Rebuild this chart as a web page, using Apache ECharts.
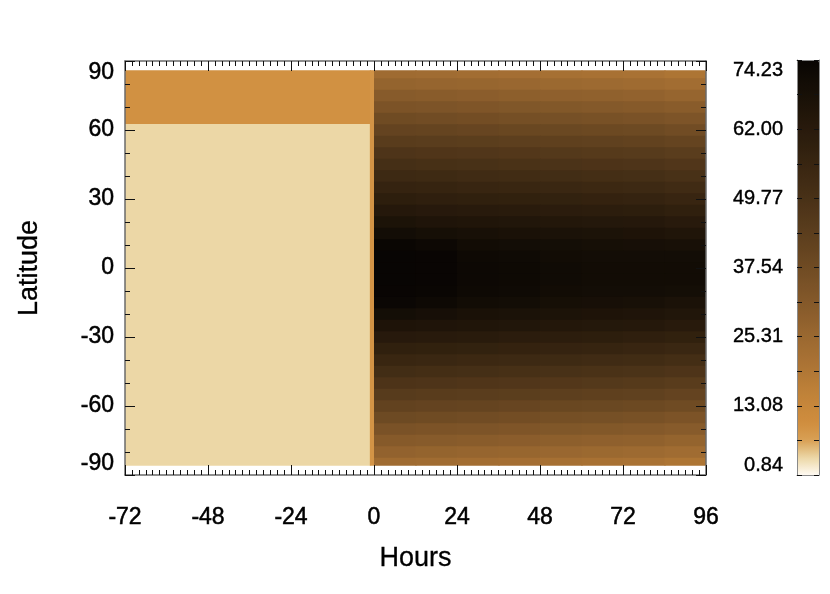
<!DOCTYPE html>
<html><head><meta charset="utf-8">
<script src="https://cdn.jsdelivr.net/npm/echarts@6/dist/echarts.min.js"></script>
<style>html,body{margin:0;padding:0;background:#fff}#c{width:830px;height:594px}</style>
</head><body><div id="c"></div>
<script>
// ---------------- DATA ----------------
const hourTicks = [-72, -48, -24, 0, 24, 48, 72, 96];
const latTicks = [-90, -60, -30, 0, 30, 60, 90];
const colorbarLabels = ['0.84', '13.08', '25.31', '37.54', '49.77', '62.00', '74.23'];
const valueMin = 0.84;
const valueMax = 74.23;

// before hour 0 (rows: latitude bands south -> north, cols: hour bands)
const preHourEdges = [-72, -1.2, 0];
const preLatEdges = [-86, 63, 86];
const preValues = [
  [3.9, 9.0],
  [9.5, 9.0]
];

// after hour 0 (rows: latitude centres north -> south, cols: hour bands)
const postHourEdges = [0, 12, 24, 36, 48, 60, 72, 84, 96];
const postLatCenters = [85, 80, 75, 70, 65, 60, 55, 50, 45, 40, 35, 30, 25, 20, 15, 10, 5, 0,
  -5, -10, -15, -20, -25, -30, -35, -40, -45, -50, -55, -60, -65, -70, -75, -80, -85];
const postValues = [
  [24.0, 23.5, 23.0, 22.5, 22.0, 21.5, 21.0, 20.0],
  [27.0, 26.5, 26.0, 25.5, 25.0, 24.5, 24.0, 23.0],
  [30.5, 30.0, 29.5, 29.0, 28.5, 28.0, 27.5, 26.5],
  [34.0, 33.5, 33.0, 32.5, 32.0, 31.5, 31.0, 30.0],
  [37.5, 37.0, 36.5, 36.0, 35.5, 35.0, 34.5, 33.5],
  [41.0, 40.5, 40.0, 39.5, 39.0, 38.5, 38.0, 37.0],
  [44.5, 44.0, 43.5, 43.0, 42.5, 42.0, 41.5, 40.5],
  [48.0, 47.5, 47.0, 46.5, 46.0, 45.5, 45.0, 44.0],
  [51.0, 50.5, 50.0, 49.5, 49.0, 48.5, 48.0, 47.0],
  [54.0, 53.5, 53.0, 52.5, 52.0, 51.5, 51.0, 50.0],
  [57.0, 56.5, 56.0, 55.5, 55.0, 54.5, 54.0, 53.0],
  [60.0, 59.5, 59.0, 58.5, 58.0, 57.5, 57.0, 56.0],
  [63.0, 62.5, 62.0, 61.5, 61.0, 60.5, 60.0, 59.0],
  [66.5, 65.5, 65.0, 64.5, 64.0, 63.5, 63.0, 62.0],
  [70.0, 69.0, 68.0, 67.5, 67.0, 66.5, 66.0, 65.0],
  [73.5, 72.5, 70.5, 70.0, 69.5, 69.0, 68.5, 68.0],
  [74.2, 74.0, 72.0, 71.5, 70.5, 70.0, 70.0, 70.0],
  [74.2, 74.0, 72.5, 72.0, 71.0, 70.5, 70.5, 70.5],
  [74.2, 74.0, 72.5, 72.0, 71.0, 70.5, 70.5, 70.5],
  [74.0, 73.5, 72.0, 71.5, 70.5, 70.0, 70.0, 69.5],
  [73.0, 72.0, 70.5, 70.0, 69.0, 68.5, 68.0, 67.0],
  [69.5, 68.5, 67.5, 67.0, 66.5, 66.0, 65.5, 64.5],
  [66.0, 65.5, 65.0, 64.5, 64.0, 63.5, 63.0, 62.0],
  [62.5, 62.0, 61.5, 61.0, 60.5, 60.0, 59.5, 58.5],
  [59.0, 58.5, 58.0, 57.5, 57.0, 56.5, 56.0, 55.0],
  [55.5, 55.0, 54.5, 54.0, 53.5, 53.0, 52.5, 51.5],
  [52.0, 51.5, 51.0, 50.5, 50.0, 49.5, 49.0, 48.0],
  [48.5, 48.0, 47.5, 47.0, 46.5, 46.0, 45.5, 44.5],
  [45.0, 44.5, 44.0, 43.5, 43.0, 42.5, 42.0, 41.0],
  [41.5, 41.0, 40.5, 40.0, 39.5, 39.0, 38.5, 37.5],
  [38.0, 37.5, 37.0, 36.5, 36.0, 35.5, 35.0, 34.0],
  [34.5, 34.0, 33.5, 33.0, 32.5, 32.0, 31.5, 30.5],
  [31.0, 30.5, 30.0, 29.5, 29.0, 28.5, 28.0, 27.0],
  [27.5, 27.0, 26.5, 26.0, 25.5, 25.0, 24.5, 23.5],
  [24.0, 23.5, 23.0, 22.5, 22.0, 21.5, 21.0, 20.0]
];
const dataLatLimit = 86;

// ---------------- STYLE ----------------
const colorScale = ['#fffaf2', '#ecd7a6', '#d8a055', '#d08e3e', '#c7873b', '#bc7f38', '#b07735',
  '#a56f33', '#9a6830', '#8f602d', '#84592a', '#7a5227', '#6f4b23', '#654420', '#5b3e1d',
  '#52371a', '#493117', '#402b14', '#382511', '#30200e', '#281a0c', '#201509', '#181007',
  '#100b05', '#080503'];
const FONT = "'Liberation Sans', Arial, sans-serif";

// ---------------- BUILD CELLS ----------------
const cells = [];
for (let i = 0; i < preLatEdges.length - 1; i++) {
  for (let j = 0; j < preHourEdges.length - 1; j++) {
    cells.push([preHourEdges[j], preHourEdges[j + 1], preLatEdges[i], preLatEdges[i + 1], preValues[i][j]]);
  }
}
for (let r = 0; r < postLatCenters.length; r++) {
  const c = postLatCenters[r];
  const top = r === 0 ? dataLatLimit : (c + postLatCenters[r - 1]) / 2;
  const bot = r === postLatCenters.length - 1 ? -dataLatLimit : (c + postLatCenters[r + 1]) / 2;
  for (let j = 0; j < postHourEdges.length - 1; j++) {
    cells.push([postHourEdges[j], postHourEdges[j + 1], bot, top, postValues[r][j]]);
  }
}

const cbStep = (valueMax - valueMin) / (colorbarLabels.length - 1);

const axisLineStyle = { color: '#6a6a6a', width: 1.5 };
const tickStyle = { color: '#111', width: 1 };
const labelStyle = { color: '#000', fontSize: 23, fontFamily: FONT, textBorderColor: '#000', textBorderWidth: 0.5 };
const nameStyle = { fontSize: 27, color: '#000', fontFamily: FONT, textBorderColor: '#000', textBorderWidth: 0.3 };

function mainX(pos, showLabel) {
  return {
    type: 'value', gridIndex: 0, position: pos, min: hourTicks[0], max: hourTicks[hourTicks.length - 1],
    interval: hourTicks[1] - hourTicks[0], z: 10,
    axisLine: { show: true, onZero: false, lineStyle: axisLineStyle },
    axisTick: { show: true, inside: true, length: 10, lineStyle: tickStyle },
    minorTick: { show: true, splitNumber: 12, length: 5, lineStyle: tickStyle },
    splitLine: { show: false },
    axisLabel: Object.assign({ show: showLabel, margin: 31 }, labelStyle),
    name: showLabel ? 'Hours' : '', nameLocation: 'middle', nameGap: 70,
    nameTextStyle: nameStyle
  };
}
function mainY(pos, showLabel) {
  return {
    type: 'value', gridIndex: 0, position: pos, min: latTicks[0], max: latTicks[latTicks.length - 1],
    interval: latTicks[1] - latTicks[0], z: 10,
    axisLine: { show: true, onZero: false, lineStyle: axisLineStyle },
    axisTick: { show: true, inside: true, length: 10, lineStyle: tickStyle },
    minorTick: { show: true, splitNumber: 3, length: 5, lineStyle: tickStyle },
    splitLine: { show: false },
    axisLabel: Object.assign({ show: showLabel, margin: 11, verticalAlignMinLabel: 'bottom', verticalAlignMaxLabel: 'top' }, labelStyle),
    name: showLabel ? 'Latitude' : '', nameLocation: 'middle', nameGap: 82,
    nameTextStyle: nameStyle
  };
}
function cbY(pos, showLabel) {
  return {
    type: 'value', gridIndex: 1, position: pos, min: valueMin, max: valueMax, interval: cbStep, z: 10,
    axisLine: { show: true, onZero: false, lineStyle: { color: '#8a8a8a', width: 1 } },
    axisTick: { show: true, inside: true, length: 5, lineStyle: tickStyle },
    minorTick: { show: true, splitNumber: 2, length: 5, lineStyle: tickStyle },
    splitLine: { show: false },
    axisLabel: {
      show: showLabel, margin: 14, color: '#000', fontSize: 20, fontFamily: FONT,
      textBorderColor: '#000', textBorderWidth: 0.4,
      verticalAlignMinLabel: 'bottom', verticalAlignMaxLabel: 'top',
      formatter: v => colorbarLabels[Math.round((v - valueMin) / cbStep)]
    }
  };
}
function cbX(pos) {
  return {
    type: 'value', gridIndex: 1, position: pos, min: 0, max: 1, z: 10,
    axisLine: { show: true, onZero: false, lineStyle: { color: '#8a8a8a', width: 1 } },
    axisTick: { show: false }, axisLabel: { show: false }, splitLine: { show: false }
  };
}

const chart = echarts.init(document.getElementById('c'), null, { renderer: 'canvas' });
chart.setOption({
  animation: false,
  backgroundColor: '#fff',
  grid: [
    { left: 125, top: 61, width: 581, height: 414 },
    { left: 797, top: 60, width: 22, height: 415 }
  ],
  xAxis: [mainX('bottom', true), mainX('top', false), cbX('bottom'), cbX('top')],
  yAxis: [mainY('left', true), mainY('right', false), cbY('left', true), cbY('right', false)],
  visualMap: {
    type: 'continuous', min: valueMin, max: valueMax, dimension: 4, seriesIndex: 0,
    inRange: { color: colorScale }, calculable: false, hoverLink: false,
    orient: 'vertical', left: 797, top: 60, itemWidth: 22, itemHeight: 415, padding: 0,
    text: null, showLabel: false
  },
  series: [{
    type: 'custom', xAxisIndex: 0, yAxisIndex: 0, clip: true,
    dimensions: ['x0', 'x1', 'y0', 'y1', 'v'],
    encode: { x: [0, 1], y: [2, 3] },
    data: cells,
    renderItem: function (params, api) {
      const p0 = api.coord([api.value(0), api.value(3)]);
      const p1 = api.coord([api.value(1), api.value(2)]);
      const col = api.visual('color');
      const lastCol = api.value(1) >= hourTicks[hourTicks.length - 1];
      const lastRow = api.value(2) <= -dataLatLimit;
      return {
        type: 'rect',
        shape: {
          x: p0[0], y: p0[1],
          width: p1[0] - p0[0] + (lastCol ? 0 : 1),
          height: p1[1] - p0[1] + (lastRow ? 0 : 1)
        },
        style: { fill: col }
      };
    }
  }]
});
</script>
</body></html>
